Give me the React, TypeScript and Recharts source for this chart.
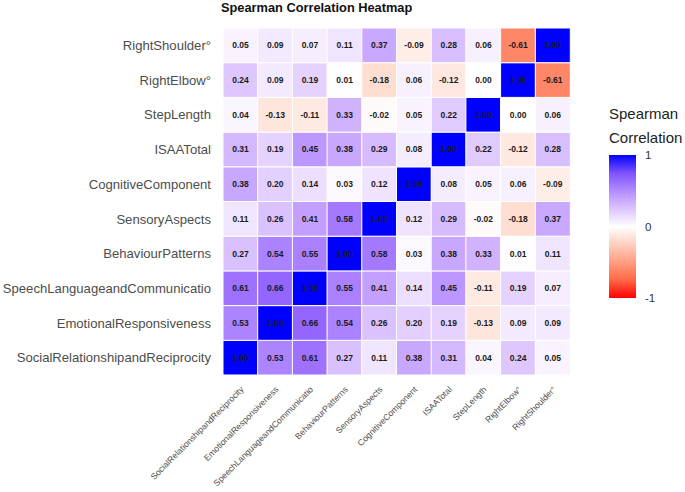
import React from "react"
import { Bar, BarChart, Cell, LabelList, XAxis, YAxis } from "recharts"

// variable names, bottom-to-top on the y axis and left-to-right on the x axis
const varNames = [
  "SocialRelationshipandReciprocity",
  "EmotionalResponsiveness",
  "SpeechLanguageandCommunicatio",
  "BehaviourPatterns",
  "SensoryAspects",
  "CognitiveComponent",
  "ISAATotal",
  "StepLength",
  "RightElbow°",
  "RightShoulder°",
]

// spearman correlations, each row in the same column order as varNames
const socialRelationship = [1.0, 0.53, 0.61, 0.27, 0.11, 0.38, 0.31, 0.04, 0.24, 0.05]
const emotionalResponsiveness = [0.53, 1.0, 0.66, 0.54, 0.26, 0.2, 0.19, -0.13, 0.09, 0.09]
const speechLanguage = [0.61, 0.66, 1.0, 0.55, 0.41, 0.14, 0.45, -0.11, 0.19, 0.07]
const behaviourPatterns = [0.27, 0.54, 0.55, 1.0, 0.58, 0.03, 0.38, 0.33, 0.01, 0.11]
const sensoryAspects = [0.11, 0.26, 0.41, 0.58, 1.0, 0.12, 0.29, -0.02, -0.18, 0.37]
const cognitiveComponent = [0.38, 0.2, 0.14, 0.03, 0.12, 1.0, 0.08, 0.05, 0.06, -0.09]
const isaaTotal = [0.31, 0.19, 0.45, 0.38, 0.29, 0.08, 1.0, 0.22, -0.12, 0.28]
const stepLength = [0.04, -0.13, -0.11, 0.33, -0.02, 0.05, 0.22, 1.0, 0.0, 0.06]
const rightElbow = [0.24, 0.09, 0.19, 0.01, -0.18, 0.06, -0.12, 0.0, 1.0, -0.61]
const rightShoulder = [0.05, 0.09, 0.07, 0.11, 0.37, -0.09, 0.28, 0.06, -0.61, 1.0]

const rows = [
  socialRelationship,
  emotionalResponsiveness,
  speechLanguage,
  behaviourPatterns,
  sensoryAspects,
  cognitiveComponent,
  isaaTotal,
  stepLength,
  rightElbow,
  rightShoulder,
]

const legendTicks = [1, 0, -1]

const FONT = "Liberation Sans, Arial, sans-serif"

// --- colour scale: red / white / blue interpolated in CIELAB like ggplot's gradient2
const toLin = (c: number) => {
  c /= 255
  return c <= 0.04045 ? c / 12.92 : Math.pow((c + 0.055) / 1.055, 2.4)
}
const fromLin = (c: number) => {
  const v = c <= 0.0031308 ? 12.92 * c : 1.055 * Math.pow(c, 1 / 2.4) - 0.055
  return Math.round(Math.max(0, Math.min(1, v)) * 255)
}
const Xn = 0.95047, Yn = 1, Zn = 1.08883
const f = (t: number) => (t > 0.008856 ? Math.cbrt(t) : 7.787 * t + 16 / 116)
const fi = (t: number) => (t > 0.206893 ? t * t * t : (t - 16 / 116) / 7.787)

const rgbToLab = (rgb: number[]) => {
  const [r, g, b] = rgb.map(toLin)
  const x = 0.4124 * r + 0.3576 * g + 0.1805 * b
  const y = 0.2126 * r + 0.7152 * g + 0.0722 * b
  const z = 0.0193 * r + 0.1192 * g + 0.9505 * b
  const fx = f(x / Xn), fy = f(y / Yn), fz = f(z / Zn)
  return [116 * fy - 16, 500 * (fx - fy), 200 * (fy - fz)]
}
const labToHex = (lab: number[]) => {
  const fy = (lab[0] + 16) / 116
  const fx = fy + lab[1] / 500
  const fz = fy - lab[2] / 200
  const x = Xn * fi(fx), y = Yn * fi(fy), z = Zn * fi(fz)
  const r = 3.2406 * x - 1.5372 * y - 0.4986 * z
  const g = -0.9689 * x + 1.8758 * y + 0.0415 * z
  const b = 0.0557 * x - 0.204 * y + 1.057 * z
  return "#" + [r, g, b].map(fromLin).map((v) => v.toString(16).padStart(2, "0")).join("")
}
const WHITE = rgbToLab([255, 255, 255])
const BLUE = rgbToLab([0, 0, 255])
const RED = rgbToLab([255, 0, 0])

const colorFor = (v: number) => {
  const end = v >= 0 ? BLUE : RED
  const s = Math.min(1, Math.abs(v))
  return labToHex(WHITE.map((w, k) => w + (end[k] - w) * s))
}

// one stacked bar per column, one unit segment per row
const table = varNames.map((name) => {
  const d: any = { name }
  rows.forEach((_, i) => (d["r" + i] = 1))
  return d
})

const XTick = (props: any) => {
  const { x, y, payload } = props
  return (
    <g transform={`translate(${x + 4},${y + 7})`}>
      <text x={0} y={0} textAnchor="end" transform="rotate(-45)" fontSize={8.6} fill="#4d4d4d" fontFamily={FONT}>
        {payload.value}
      </text>
    </g>
  )
}

const cellLabel = (rowIdx: number) => (props: any) => {
  const { x, y, width, height, index } = props
  const v = rows[rowIdx][index]
  return (
    <text
      x={x + width / 2}
      y={y + height / 2}
      dy={3}
      textAnchor="middle"
      fontSize={8.5}
      fontWeight="bold"
      fill="#1a1a1a"
      fontFamily={FONT}
    >
      {v.toFixed(2)}
    </text>
  )
}

const ColorBar = () => {
  const stops = [1, 0.75, 0.5, 0.25, 0, -0.25, -0.5, -0.75, -1]
  const top = 55
  const h = 143
  return (
    <div style={{ position: "absolute", left: 600, top: 100, width: 85, height: 220 }}>
      <svg width={85} height={220} style={{ fontFamily: FONT }}>
        <defs>
          <linearGradient id="corrGrad" x1="0" y1="0" x2="0" y2="1">
            {stops.map((s, i) => (
              <stop key={i} offset={`${(i / (stops.length - 1)) * 100}%`} stopColor={colorFor(s)} />
            ))}
          </linearGradient>
        </defs>
        <text x={9} y={19} fontSize={15} fill="#222">Spearman</text>
        <text x={9} y={43} fontSize={15} fill="#222">Correlation</text>
        <rect x={9} y={top} width={27} height={h} fill="url(#corrGrad)" />
        {legendTicks.map((t) => (
          <text key={t} x={45} y={top + ((1 - t) / 2) * h + 4} fontSize={11.5} fill="#333">
            {t}
          </text>
        ))}
      </svg>
    </div>
  )
}

export default function App() {
  return (
    <div style={{ position: "absolute", left: 0, top: 0, width: 685, height: 492, background: "#fff" }}>
      <div
        style={{
          position: "absolute",
          left: 221,
          top: 0,
          fontFamily: FONT,
          fontWeight: "bold",
          fontSize: 12.8,
          color: "#111",
          lineHeight: "15px",
        }}
      >
        Spearman Correlation Heatmap
      </div>
      <BarChart
        width={685}
        height={492}
        data={table}
        margin={{ top: 28, right: 115, left: 0, bottom: 0 }}
        barCategoryGap={0}
        barGap={0}
      >
        <XAxis dataKey="name" interval={0} tick={<XTick />} axisLine={false} tickLine={false} height={117} />
        <YAxis
          type="number"
          domain={[0, 10]}
          ticks={varNames.map((_, i) => i + 0.5)}
          tickFormatter={(v: number) => varNames[Math.floor(v)]}
          width={223}
          axisLine={false}
          tickLine={false}
          tickMargin={6}
          tick={{ fontSize: 13.1, fill: "#4d4d4d", fontFamily: FONT }}
        />
        {rows.map((r, i) => (
          <Bar key={i} dataKey={"r" + i} stackId="cells" isAnimationActive={false} stroke="#fff" strokeWidth={1}>
            {r.map((v, j) => (
              <Cell key={j} fill={colorFor(v)} stroke="#fff" strokeWidth={1} />
            ))}
            <LabelList dataKey={"r" + i} content={cellLabel(i)} />
          </Bar>
        ))}
      </BarChart>
      <ColorBar />
    </div>
  )
}
